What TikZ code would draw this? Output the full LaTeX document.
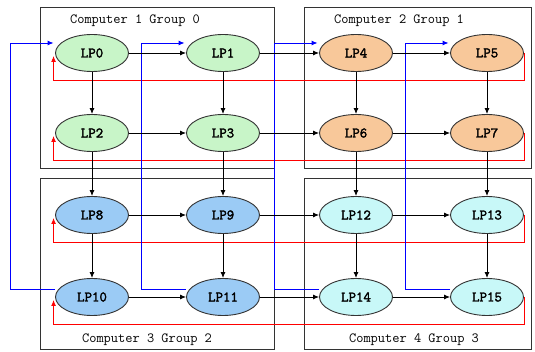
\documentclass[tikz,border=0pt]{standalone}
\usepackage{fontspec}
\newfontfamily\titlefont{Latin Modern Mono}
\newfontfamily\labelfont[FakeBold=2.2]{Latin Modern Mono}
\usetikzlibrary{arrows.meta,calc,shapes.geometric}
\definecolor{grpA}{HTML}{C8F5C8}
\definecolor{grpB}{HTML}{F8C89A}
\definecolor{grpC}{HTML}{9BCBF5}
\definecolor{grpD}{HTML}{C8F8F8}
\definecolor{rim}{HTML}{333333}
\tikzset{
  lp/.style={ellipse, draw=rim, line width=0.9pt, minimum width=73pt, minimum height=37pt,
    inner sep=0pt, font=\labelfont\fontsize{14.5}{15}\selectfont},
  groupbox/.style={draw=rim, line width=1pt},
  grouptitle/.style={font=\titlefont\fontsize{14}{15}\selectfont, inner sep=0pt},
  flow/.style={draw=black, line width=0.9pt, -{Latex[length=6pt,width=5pt]}},
  wrap/.style={draw=red, line width=0.9pt, -{Latex[length=6pt,width=5pt]}},
  back/.style={draw=blue, line width=0.9pt, -{Latex[length=6pt,width=5pt]}}
}
\begin{document}
\begin{tikzpicture}[x=1pt,y=-1pt]
\useasboundingbox (0,0) rectangle (535,352);

% computer boxes
\draw[groupbox] (40,8) rectangle (274,169);
\draw[groupbox] (304,8) rectangle (531,169);
\draw[groupbox] (40,179) rectangle (274,349);
\draw[groupbox] (304,179) rectangle (531,349);
\node[grouptitle] (t0) at (135,21) {Computer 1 Group 0};
\node[grouptitle] (t1) at (399,21) {Computer 2 Group 1};
\node[grouptitle] (t2) at (147,340) {Computer 3 Group 2};
\node[grouptitle] (t3) at (414,340) {Computer 4 Group 3};

% logical processes
\node[lp, fill=grpA] (LP0) at (92,53) {LP0};
\node[lp, fill=grpA] (LP1) at (223,53) {LP1};
\node[lp, fill=grpA] (LP2) at (92,133) {LP2};
\node[lp, fill=grpA] (LP3) at (223,133) {LP3};
\node[lp, fill=grpB] (LP4) at (356,53) {LP4};
\node[lp, fill=grpB] (LP5) at (487,53) {LP5};
\node[lp, fill=grpB] (LP6) at (356,133) {LP6};
\node[lp, fill=grpB] (LP7) at (487,133) {LP7};
\node[lp, fill=grpC] (LP8) at (92,215) {LP8};
\node[lp, fill=grpC] (LP9) at (223,215) {LP9};
\node[lp, fill=grpC] (LP10) at (92,297) {LP10};
\node[lp, fill=grpC] (LP11) at (223,297) {LP11};
\node[lp, fill=grpD] (LP12) at (356,215) {LP12};
\node[lp, fill=grpD] (LP13) at (487,215) {LP13};
\node[lp, fill=grpD] (LP14) at (356,297) {LP14};
\node[lp, fill=grpD] (LP15) at (487,297) {LP15};

% row-wise wrap-around links (red)
\foreach \a/\b in {LP0/LP5, LP2/LP7, LP8/LP13, LP10/LP15}{
  \draw[wrap] (\b.east) -- ++(0,27) -| ($(\a.west)+(-1.5,3)$);
}

% column-wise wrap-around links (blue)
\foreach \a/\b in {LP0/LP10, LP1/LP11, LP4/LP14, LP5/LP15}{
  \draw[back] ($(\b.west)+(0,-8)$) -- ++(-44.5,0) |- ($(\a.west)+(-1.5,-10)$);
}

% horizontal links
\foreach \a/\b in {LP0/LP1, LP1/LP4, LP4/LP5, LP2/LP3, LP3/LP6, LP6/LP7,
                   LP8/LP9, LP9/LP12, LP12/LP13, LP10/LP11, LP11/LP14, LP14/LP15}{
  \draw[flow] (\a) -- (\b);
}
% vertical links
\foreach \a/\b in {LP0/LP2, LP2/LP8, LP8/LP10, LP1/LP3, LP3/LP9, LP9/LP11,
                   LP4/LP6, LP6/LP12, LP12/LP14, LP5/LP7, LP7/LP13, LP13/LP15}{
  \draw[flow] (\a) -- (\b);
}
\end{tikzpicture}
\end{document}
